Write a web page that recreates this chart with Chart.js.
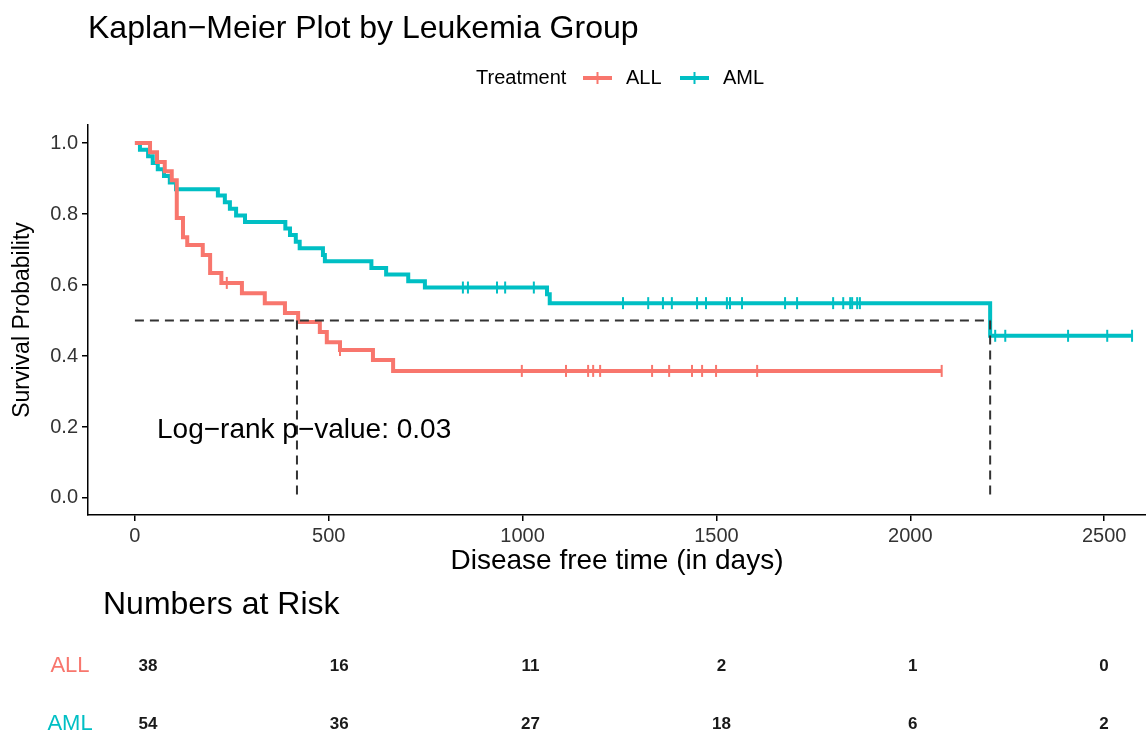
<!DOCTYPE html>
<html>
<head>
<meta charset="utf-8">
<title>Kaplan-Meier Plot by Leukemia Group</title>
<script src="https://cdn.jsdelivr.net/npm/chart.js@4.4.1/dist/chart.umd.min.js"></script>
<style>
    html, body { margin: 0; padding: 0; background: #ffffff; }
    #wrap { width: 1146px; height: 738px; }
</style>
</head>
<body>
<div id="wrap"><canvas id="kmChart" width="1146" height="738"></canvas></div>
<script>
// Curvas de sobrevivência (tempo em dias, probabilidade após o evento)
const allTimes = [0, 39, 57, 77, 95, 108, 124, 135, 175, 194, 223, 276, 335, 387, 421, 477, 495, 529, 614, 666, 2081];
const allSurv  = [1.0, 0.974, 0.947, 0.921, 0.895, 0.789, 0.735, 0.713, 0.685, 0.634, 0.606, 0.577, 0.549, 0.521, 0.496, 0.468, 0.439, 0.417, 0.389, 0.358, 0.358];
const allCensor = [237, 529, 998, 1112, 1169, 1182, 1200, 1334, 1378, 1437, 1463, 1499, 1605, 2081];

const amlTimes = [0, 13, 34, 46, 59, 75, 90, 106, 214, 232, 245, 261, 284, 388, 400, 415, 425, 485, 490, 610, 648, 705, 748, 1063, 1070, 2206, 2572];
const amlSurv  = [1.0, 0.981, 0.963, 0.944, 0.926, 0.907, 0.889, 0.870, 0.852, 0.833, 0.815, 0.796, 0.778, 0.759, 0.741, 0.722, 0.704, 0.685, 0.667, 0.648, 0.630, 0.611, 0.593, 0.574, 0.549, 0.457, 0.457];
const amlCensor = [846, 859, 934, 955, 1029, 1259, 1324, 1362, 1385, 1450, 1473, 1527, 1535, 1566, 1677, 1708, 1801, 1827, 1845, 1850, 1863, 1870, 2219, 2245, 2407, 2508, 2572];

// Medianas
const allMedian = 418;
const amlMedian = 2206;

// Eixos e tabela de risco
const xTicks = [0, 500, 1000, 1500, 2000, 2500];
const yTicks = [0, 0.2, 0.4, 0.6, 0.8, 1.0];
const allRisk = [38, 16, 11, 2, 1, 0];
const amlRisk = [54, 36, 27, 18, 6, 2];

const RED = '#F8766D';
const TEAL = '#00BFC4';
const FONT = "'Liberation Sans', Arial, sans-serif";

function survAt(times, surv, t) {
    let s = surv[0];
    for (let i = 0; i < times.length; i++) {
        if (times[i] <= t) s = surv[i];
    }
    return s;
}

function toPoints(times, values) {
    return times.map((t, i) => ({ x: t, y: values[i] }));
}

function censorPoints(times, surv, censor) {
    return censor.map(t => ({ x: t, y: survAt(times, surv, t) }));
}

// Textos extras: título, legenda, p-valor e tabela "Numbers at Risk"
const extrasPlugin = {
    id: 'kmExtras',
    afterDraw(chart) {
        const ctx = chart.ctx;
        const xs = chart.scales.x;
        const ys = chart.scales.y;
        const xr = chart.scales.xRisk;
        ctx.save();

        // título
        ctx.fillStyle = '#000';
        ctx.textAlign = 'left';
        ctx.textBaseline = 'alphabetic';
        ctx.font = '32px ' + FONT;
        ctx.fillText('Kaplan\u2212Meier Plot by Leukemia Group', 88, 38);

        // legenda
        ctx.font = '20px ' + FONT;
        ctx.textBaseline = 'middle';
        ctx.fillText('Treatment', 476, 78);
        const keys = [
            { label: 'ALL', color: RED, x0: 583 },
            { label: 'AML', color: TEAL, x0: 680 }
        ];
        keys.forEach(k => {
            ctx.strokeStyle = k.color;
            ctx.lineWidth = 4;
            ctx.beginPath();
            ctx.moveTo(k.x0, 78);
            ctx.lineTo(k.x0 + 29, 78);
            ctx.stroke();
            ctx.lineWidth = 2;
            ctx.beginPath();
            ctx.moveTo(k.x0 + 14.5, 72);
            ctx.lineTo(k.x0 + 14.5, 84);
            ctx.stroke();
            ctx.fillStyle = '#000';
            ctx.fillText(k.label, k.x0 + 43, 78);
        });

        // p-valor
        ctx.font = '28px ' + FONT;
        ctx.fillStyle = '#000';
        ctx.fillText('Log\u2212rank p\u2212value: 0.03', xs.getPixelForValue(57), ys.getPixelForValue(0.19));

        // tabela de risco
        ctx.font = '32px ' + FONT;
        ctx.fillText('Numbers at Risk', 103, 605);

        ctx.textAlign = 'center';
        ctx.font = '22px ' + FONT;
        ctx.fillStyle = RED;
        ctx.fillText('ALL', 70, 666);
        ctx.fillStyle = TEAL;
        ctx.fillText('AML', 70, 724);

        ctx.font = 'bold 17px ' + FONT;
        ctx.fillStyle = '#1a1a1a';
        xTicks.forEach((t, i) => {
            const px = xr.getPixelForValue(t);
            ctx.fillText(String(allRisk[i]), px, 666);
            ctx.fillText(String(amlRisk[i]), px, 724);
        });

        ctx.restore();
    }
};

const dashStyle = {
    borderColor: '#333333',
    borderWidth: 2,
    borderDash: [9, 6],
    pointRadius: 0,
    fill: false
};

const ctx = document.getElementById('kmChart').getContext('2d');
new Chart(ctx, {
    type: 'line',
    data: {
        datasets: [
            Object.assign({ label: 'medianH', data: [{ x: 0, y: 0.5 }, { x: amlMedian, y: 0.5 }] }, dashStyle),
            Object.assign({ label: 'medianAll', data: [{ x: allMedian, y: 0.5 }, { x: allMedian, y: 0 }] }, dashStyle),
            Object.assign({ label: 'medianAml', data: [{ x: amlMedian, y: 0.5 }, { x: amlMedian, y: 0 }] }, dashStyle),
            {
                label: 'ALL',
                data: toPoints(allTimes, allSurv),
                borderColor: RED,
                borderWidth: 4,
                stepped: true,
                pointRadius: 0,
                fill: false
            },
            {
                label: 'AML',
                data: toPoints(amlTimes, amlSurv),
                borderColor: TEAL,
                borderWidth: 4,
                stepped: true,
                pointRadius: 0,
                fill: false
            },
            {
                label: 'ALL censor',
                type: 'scatter',
                data: censorPoints(allTimes, allSurv, allCensor),
                borderColor: RED,
                backgroundColor: RED,
                pointStyle: 'line',
                rotation: 90,
                radius: 6,
                borderWidth: 2
            },
            {
                label: 'AML censor',
                type: 'scatter',
                data: censorPoints(amlTimes, amlSurv, amlCensor),
                borderColor: TEAL,
                backgroundColor: TEAL,
                pointStyle: 'line',
                rotation: 90,
                radius: 6,
                borderWidth: 2
            }
        ]
    },
    options: {
        responsive: false,
        animation: false,
        layout: {
            autoPadding: false,
            padding: { top: 125, bottom: 160, left: 0, right: 0 }
        },
        plugins: {
            legend: { display: false },
            title: { display: false },
            tooltip: { enabled: false }
        },
        scales: {
            x: {
                type: 'linear',
                min: -121,
                max: 2608,
                afterBuildTicks: s => { s.ticks = xTicks.map(v => ({ value: v })); },
                afterFit: s => {
                    s.height = 63;
                    s.paddingLeft = 0;
                    s.paddingRight = 0;
                },
                ticks: {
                    color: '#333',
                    font: { family: FONT, size: 20 },
                    padding: 3,
                    maxRotation: 0,
                    callback: v => String(v)
                },
                grid: {
                    drawOnChartArea: false,
                    drawTicks: true,
                    tickLength: 6,
                    color: '#000',
                    lineWidth: 1.5
                },
                border: { display: true, color: '#000', width: 1.5 },
                title: {
                    display: true,
                    text: 'Disease free time (in days)',
                    color: '#000',
                    font: { family: FONT, size: 28 },
                    padding: { top: 0, bottom: 0 }
                }
            },
            xRisk: {
                type: 'linear',
                axis: 'x',
                position: 'bottom',
                display: false,
                min: -157,
                max: 2610
            },
            y: {
                type: 'linear',
                min: -0.048,
                max: 1.051,
                afterBuildTicks: s => { s.ticks = yTicks.map(v => ({ value: v })); },
                afterFit: s => {
                    s.width = 88;
                    s.paddingTop = 0;
                    s.paddingBottom = 0;
                },
                ticks: {
                    color: '#333',
                    font: { family: FONT, size: 20 },
                    padding: 4,
                    callback: v => Number(v).toFixed(1)
                },
                grid: {
                    drawOnChartArea: false,
                    drawTicks: true,
                    tickLength: 6,
                    color: '#000',
                    lineWidth: 1.5
                },
                border: { display: true, color: '#000', width: 1.5 },
                title: {
                    display: true,
                    text: 'Survival Probability',
                    color: '#000',
                    font: { family: FONT, size: 23 },
                    padding: { top: 9, bottom: 0 }
                }
            }
        }
    },
    plugins: [extrasPlugin]
});
</script>
</body>
</html>
